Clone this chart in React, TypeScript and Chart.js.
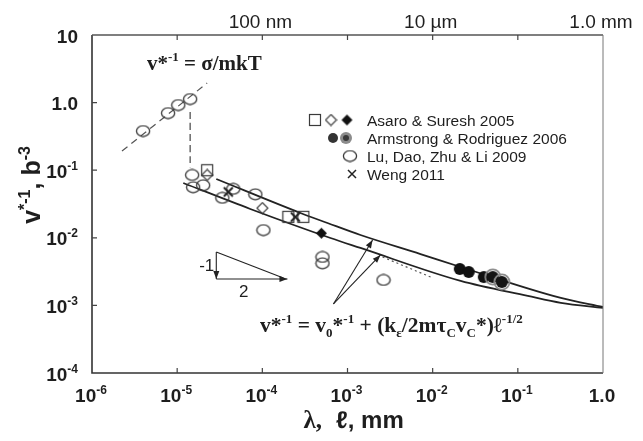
import React, { useEffect, useRef } from 'react';
import { Chart, registerables } from 'chart.js';
Chart.register(...registerables);

// ---- data (x = λ or ℓ in mm, y = v*^-1 in b^-3) ----
// Lu, Dao, Zhu & Li 2009 (open circles)
const luX = [3.98e-6, 7.83e-6, 1.03e-5, 1.42e-5, 1.5e-5, 1.54e-5, 2.02e-5, 3.39e-5, 4.56e-5, 8.28e-5, 1.03e-4, 5.08e-4, 5.08e-4, 2.65e-3];
const luY = [0.38, 0.7, 0.92, 1.13, 0.085, 0.056, 0.06, 0.039, 0.053, 0.044, 0.013, 0.0052, 0.0042, 0.00238];
// Asaro & Suresh 2005
const asaroSquareX = [2.25e-5, 2.02e-4, 3.03e-4];
const asaroSquareY = [0.1, 0.0204, 0.0204];
const asaroDiamondX = [2.25e-5, 1.0e-4];
const asaroDiamondY = [0.085, 0.0275];
const asaroFilledX = [4.94e-4];
const asaroFilledY = [0.0117];
// Armstrong & Rodriguez 2006
const armstrongX = [0.0208, 0.0265, 0.0398];
const armstrongY = [0.00346, 0.00312, 0.00263];
const armstrongRingX = [0.0508, 0.0649];
const armstrongRingY = [0.00263, 0.00222];
// Weng 2011
const wengX = [3.98e-5, 2.44e-4];
const wengY = [0.0477, 0.0203];
// fitted curves
const upperCurveX = [2.88e-5, 2.8e-4, 5.82e-4, 1.42e-3, 7.2e-3, 0.0213, 0.32, 1.0];
const upperCurveY = [0.0741, 0.0233, 0.01656, 0.011, 0.00575, 0.0037, 0.00129, 0.000946];
const lowerCurveX = [1.18e-5, 7.22e-5, 6.31e-4, 1.42e-3, 0.0213, 0.131, 0.32, 1.0];
const lowerCurveY = [0.0647, 0.0267, 0.00993, 0.00707, 0.0023, 0.00138, 0.00109, 0.000916];
// guide lines
const guideX = [2.25e-6, 2.25e-5];
const guideY = [0.192, 1.95];
const dropX = [1.42e-5, 1.42e-5];
const dropY = [0.726, 0.111];
const dotX = [2.58e-3, 9.46e-3];
const dotY = [0.0052, 0.00263];

// ---- ticks ----
const xTickValues = [1e-6, 1e-5, 1e-4, 1e-3, 1e-2, 1e-1, 1];
const xTickBase = ['10', '10', '10', '10', '10', '10', '1.0'];
const xTickExp = ['-6', '-5', '-4', '-3', '-2', '-1', ''];
const yTickValues = [1e-4, 1e-3, 1e-2, 1e-1, 1, 10];
const yTickBase = ['10', '10', '10', '10', '1.0', '10'];
const yTickExp = ['-4', '-3', '-2', '-1', '', ''];
const topTickValues = [1e-4, 1e-2, 1];
const topTickLabels = ['100 nm', '10 µm', '1.0 mm'];

const legendLabels = ['Asaro & Suresh 2005', 'Armstrong & Rodriguez 2006', 'Lu, Dao, Zhu & Li 2009', 'Weng 2011'];

// annotation anchors in data coordinates
const arrowFrom = { x: 6.84e-4, y: 0.00105 };
const arrowToUpper = { x: 1.97e-3, y: 0.00927 };
const arrowToLower = { x: 2.44e-3, y: 0.00557 };
const triTop = { x: 2.88e-5, y: 0.00617 };
const triCorner = { x: 2.88e-5, y: 0.00246 };
const triRight = { x: 1.97e-4, y: 0.00246 };

const SANS = '"Liberation Sans", Arial, Helvetica, sans-serif';
const SERIF = '"Liberation Serif", "Times New Roman", serif';
const INK = '#1e1e1e';

function pts(xs: number[], ys: number[]) {
  return xs.map((x, i) => ({ x, y: ys[i] }));
}

function makeCanvas(w: number, h: number, draw: (g: CanvasRenderingContext2D) => void) {
  const c = document.createElement('canvas');
  c.width = w;
  c.height = h;
  const g = c.getContext('2d')!;
  draw(g);
  return c;
}

function makeMarkers() {
  const ellipse = makeCanvas(16, 13, (g) => {
    g.beginPath();
    g.ellipse(8, 6.5, 6.6, 5.3, 0, 0, Math.PI * 2);
    g.strokeStyle = '#383838';
    g.lineWidth = 1.3;
    g.stroke();
  });
  const square = makeCanvas(14, 14, (g) => {
    g.strokeStyle = '#3a3a3a';
    g.lineWidth = 1.2;
    g.strokeRect(1.5, 1.5, 11, 11);
  });
  const diamond = (fill: boolean) =>
    makeCanvas(13, 13, (g) => {
      g.beginPath();
      g.moveTo(6.5, 1);
      g.lineTo(12, 6.5);
      g.lineTo(6.5, 12);
      g.lineTo(1, 6.5);
      g.closePath();
      if (fill) {
        g.fillStyle = '#111';
        g.fill();
      } else {
        g.strokeStyle = '#3a3a3a';
        g.lineWidth = 1.1;
        g.stroke();
      }
    });
  const blackCircle = makeCanvas(14, 14, (g) => {
    g.beginPath();
    g.arc(7, 7, 6, 0, Math.PI * 2);
    g.fillStyle = '#111';
    g.fill();
  });
  const ringCircle = makeCanvas(18, 18, (g) => {
    g.beginPath();
    g.arc(9, 9, 7.6, 0, Math.PI * 2);
    g.strokeStyle = '#8a8a8a';
    g.lineWidth = 1.8;
    g.stroke();
    g.beginPath();
    g.arc(9, 9, 6, 0, Math.PI * 2);
    g.fillStyle = '#151515';
    g.fill();
  });
  const ringLegend = makeCanvas(14, 14, (g) => {
    g.beginPath();
    g.arc(7, 7, 6, 0, Math.PI * 2);
    g.fillStyle = '#8c8c8c';
    g.fill();
    g.beginPath();
    g.arc(7, 7, 3, 0, Math.PI * 2);
    g.fillStyle = '#3a3a3a';
    g.fill();
  });
  const legendDot = makeCanvas(12, 12, (g) => {
    g.beginPath();
    g.arc(6, 6, 5, 0, Math.PI * 2);
    g.fillStyle = '#333';
    g.fill();
  });
  const xMark = makeCanvas(13, 13, (g) => {
    g.strokeStyle = '#222';
    g.lineWidth = 2;
    g.beginPath();
    g.moveTo(2, 2);
    g.lineTo(11, 11);
    g.moveTo(11, 2);
    g.lineTo(2, 11);
    g.stroke();
  });
  const xLegend = makeCanvas(12, 12, (g) => {
    g.strokeStyle = '#222';
    g.lineWidth = 1.5;
    g.beginPath();
    g.moveTo(2, 2);
    g.lineTo(10, 10);
    g.moveTo(10, 2);
    g.lineTo(2, 10);
    g.stroke();
  });
  return {
    ellipse,
    square,
    openDiamond: diamond(false),
    filledDiamond: diamond(true),
    blackCircle,
    ringCircle,
    ringLegend,
    legendDot,
    xMark,
    xLegend,
  };
}

type Seg = [string, 'n' | 'sup' | 'sub'];

function drawSegments(ctx: CanvasRenderingContext2D, segs: Seg[], x: number, y: number, size: number, family: string, weight: string, align: 'left' | 'center' | 'right' = 'left') {
  const small = Math.round(size * 0.62);
  const fontFor = (m: string) => `${weight} ${m === 'n' ? size : small}px ${family}`;
  let total = 0;
  for (const [t, m] of segs) {
    ctx.font = fontFor(m);
    total += ctx.measureText(t).width;
  }
  let cx = align === 'left' ? x : align === 'center' ? x - total / 2 : x - total;
  ctx.textAlign = 'left';
  ctx.textBaseline = 'alphabetic';
  for (const [t, m] of segs) {
    ctx.font = fontFor(m);
    const dy = m === 'sup' ? -size * 0.42 : m === 'sub' ? size * 0.22 : 0;
    ctx.fillText(t, cx, y + dy);
    cx += ctx.measureText(t).width;
  }
  return total;
}

function arrow(ctx: CanvasRenderingContext2D, x1: number, y1: number, x2: number, y2: number, head = 8, hw = 3) {
  ctx.beginPath();
  ctx.moveTo(x1, y1);
  ctx.lineTo(x2, y2);
  ctx.stroke();
  const a = Math.atan2(y2 - y1, x2 - x1);
  const bx = x2 - head * Math.cos(a);
  const by = y2 - head * Math.sin(a);
  ctx.beginPath();
  ctx.moveTo(x2, y2);
  ctx.lineTo(bx + hw * Math.sin(a), by - hw * Math.cos(a));
  ctx.lineTo(bx - hw * Math.sin(a), by + hw * Math.cos(a));
  ctx.closePath();
  ctx.fill();
}

export default function App() {
  const ref = useRef<HTMLCanvasElement | null>(null);

  useEffect(() => {
    document.body.style.margin = '0';
    const canvas = ref.current!;
    const mk = makeMarkers();

    const decor = {
      id: 'decor',
      afterDraw(chart: any) {
        const ctx: CanvasRenderingContext2D = chart.ctx;
        const { left, right, top, bottom } = chart.chartArea;
        const xs = chart.scales.x;
        const ys = chart.scales.y;
        const px = (v: number) => xs.getPixelForValue(v);
        const py = (v: number) => ys.getPixelForValue(v);
        ctx.save();

        // frame
        ctx.strokeStyle = '#333';
        ctx.lineWidth = 1.6;
        ctx.beginPath();
        ctx.moveTo(left, top);
        ctx.lineTo(left, bottom);
        ctx.lineTo(right, bottom);
        ctx.stroke();
        ctx.strokeStyle = '#555';
        ctx.lineWidth = 1.4;
        ctx.beginPath();
        ctx.moveTo(left, top);
        ctx.lineTo(right, top);
        ctx.stroke();
        ctx.strokeStyle = '#777';
        ctx.lineWidth = 1;
        ctx.beginPath();
        ctx.moveTo(right, top);
        ctx.lineTo(right, bottom);
        ctx.stroke();

        // inward ticks
        ctx.strokeStyle = '#444';
        ctx.lineWidth = 1.2;
        ctx.beginPath();
        xTickValues.slice(1, -1).forEach((v) => {
          const x = px(v);
          ctx.moveTo(x, bottom);
          ctx.lineTo(x, bottom - 5);
          ctx.moveTo(x, top);
          ctx.lineTo(x, top + 5);
        });
        yTickValues.slice(1, -1).forEach((v) => {
          const y = py(v);
          ctx.moveTo(left, y);
          ctx.lineTo(left + 5, y);
        });
        ctx.stroke();

        // tick labels
        ctx.fillStyle = INK;
        xTickValues.forEach((v, i) => {
          drawSegments(ctx, [[xTickBase[i], 'n'], [xTickExp[i], 'sup']], px(v) - 1, bottom + 29, 19, SANS, 'bold', 'center');
        });
        yTickValues.forEach((v, i) => {
          drawSegments(ctx, [[yTickBase[i], 'n'], [yTickExp[i], 'sup']], left - 14, py(v) + 7.5, 19, SANS, 'bold', 'right');
        });
        ctx.font = `19px ${SANS}`;
        ctx.textAlign = 'center';
        topTickValues.forEach((v, i) => {
          ctx.fillText(topTickLabels[i], px(v) - 2, 28);
        });

        // axis titles
        drawSegments(ctx, [['λ,', 'n']], 322, 428, 25, SERIF, 'bold', 'right');
        drawSegments(ctx, [['ℓ, mm', 'n']], 336, 428, 24, SANS, 'bold', 'left');

        ctx.save();
        ctx.translate(40, 185);
        ctx.rotate(-Math.PI / 2);
        drawSegments(ctx, [['v', 'n'], ['*-1', 'sup'], [', ', 'n'], ['b', 'n'], ['-3', 'sup']], 0, 0, 25, SANS, 'bold', 'center');
        ctx.restore();

        // equations
        drawSegments(ctx, [['v*', 'n'], ['-1', 'sup'], [' = σ/mkT', 'n']], 147, 70, 21, SERIF, 'bold');
        drawSegments(
          ctx,
          [
            ['v*', 'n'], ['-1', 'sup'], [' = v', 'n'], ['0', 'sub'], ['*', 'n'], ['-1', 'sup'],
            [' + (k', 'n'], ['ε', 'sub'], ['/2mτ', 'n'], ['C', 'sub'], ['v', 'n'], ['C', 'sub'],
            ['*)ℓ', 'n'], ['-1/2', 'sup'],
          ],
          260, 332, 21.5, SERIF, 'bold'
        );

        // arrows to curves
        ctx.strokeStyle = '#222';
        ctx.fillStyle = '#222';
        ctx.lineWidth = 1.1;
        arrow(ctx, px(arrowFrom.x), py(arrowFrom.y), px(arrowToUpper.x), py(arrowToUpper.y));
        arrow(ctx, px(arrowFrom.x), py(arrowFrom.y), px(arrowToLower.x), py(arrowToLower.y));

        // slope triangle
        const tx = px(triTop.x), ty = py(triTop.y), cy = py(triCorner.y), rx = px(triRight.x);
        ctx.lineWidth = 1.1;
        arrow(ctx, tx, ty, tx, cy, 8, 3);
        arrow(ctx, tx, cy, rx, cy, 8, 3);
        ctx.beginPath();
        ctx.moveTo(tx, ty);
        ctx.lineTo(rx - 4, cy - 1);
        ctx.stroke();
        ctx.fillStyle = INK;
        ctx.font = `17px ${SANS}`;
        ctx.textAlign = 'right';
        ctx.fillText('-1', tx - 2, (ty + cy) / 2 + 6);
        ctx.textAlign = 'center';
        ctx.fillText('2', (tx + rx) / 2 - 8, cy + 18);

        // legend
        const rows = [120, 138, 156, 174];
        const img = (c: HTMLCanvasElement, x: number, y: number) => ctx.drawImage(c, x - c.width / 2, y - c.height / 2);
        img(mk.square, 315, rows[0]);
        img(mk.openDiamond, 331, rows[0]);
        img(mk.filledDiamond, 347, rows[0]);
        img(mk.legendDot, 333, rows[1]);
        img(mk.ringLegend, 346, rows[1]);
        img(mk.ellipse, 350, rows[2]);
        img(mk.xLegend, 352, rows[3]);
        ctx.fillStyle = INK;
        ctx.font = `15.5px ${SANS}`;
        ctx.textAlign = 'left';
        legendLabels.forEach((t, i) => ctx.fillText(t, 367, rows[i] + 5.5));

        ctx.restore();
      },
    };

    const line = (xs: number[], ys: number[], color: string, width: number, dash: number[] = []) => ({
      data: pts(xs, ys),
      showLine: true,
      borderColor: color,
      borderWidth: width,
      borderDash: dash,
      pointRadius: 0,
      fill: false,
      cubicInterpolationMode: 'monotone' as const,
    });
    const marks = (xs: number[], ys: number[], style: HTMLCanvasElement) => ({
      data: pts(xs, ys),
      showLine: false,
      pointStyle: style,
      pointRadius: 7,
    });

    const chart = new Chart(canvas, {
      type: 'scatter',
      data: {
        datasets: [
          marks(wengX, wengY, mk.xMark),
          marks(asaroFilledX, asaroFilledY, mk.filledDiamond),
          marks(asaroDiamondX, asaroDiamondY, mk.openDiamond),
          marks(asaroSquareX, asaroSquareY, mk.square),
          marks(armstrongRingX, armstrongRingY, mk.ringCircle),
          marks(armstrongX, armstrongY, mk.blackCircle),
          marks(luX, luY, mk.ellipse),
          line(upperCurveX, upperCurveY, '#222', 1.8),
          line(lowerCurveX, lowerCurveY, '#222', 1.8),
          line(guideX, guideY, '#555', 1.2, [7, 5]),
          line(dropX, dropY, '#444', 1.2, [7, 4]),
          line(dotX, dotY, '#555', 1.2, [2, 3]),
        ] as any,
      },
      options: {
        responsive: false,
        animation: false,
        devicePixelRatio: 1,
        events: [],
        layout: { padding: { left: 92, right: 40, top: 35, bottom: 68 } },
        plugins: { legend: { display: false }, tooltip: { enabled: false } },
        scales: {
          x: { type: 'logarithmic', min: 1e-6, max: 1, display: false },
          y: { type: 'logarithmic', min: 1e-4, max: 10, display: false },
        },
      } as any,
      plugins: [decor],
    });
    return () => chart.destroy();
  }, []);

  return (
    <div style={{ width: 643, height: 441, background: '#fff' }}>
      <canvas ref={ref} width={643} height={441} style={{ display: 'block' }} />
    </div>
  );
}
